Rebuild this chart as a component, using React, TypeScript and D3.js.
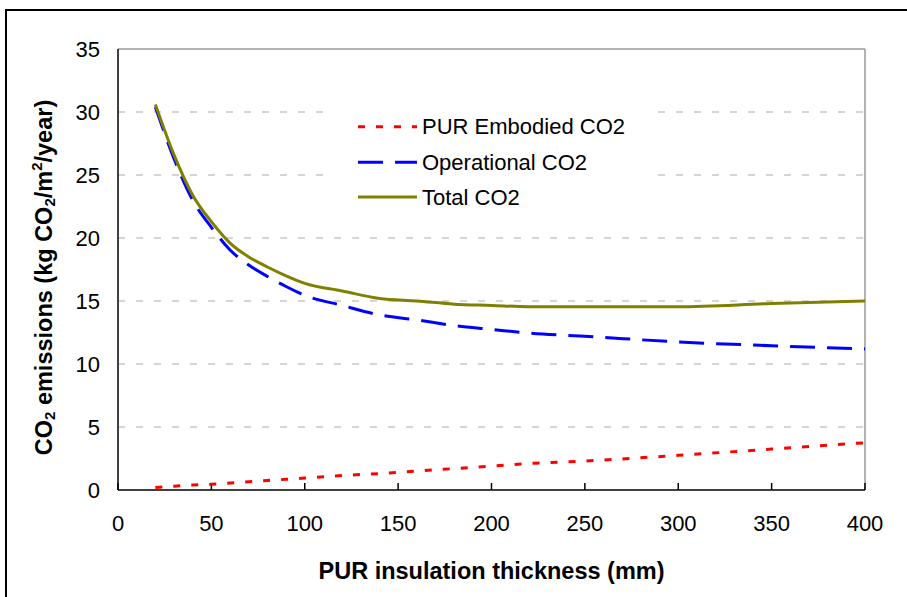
import React from "react";
import * as d3 from "d3";

const thickness = [20, 30, 40, 50, 60, 70, 80, 90, 100, 120, 140, 160, 180, 200, 220, 250, 300, 350, 400];
const totalCO2 = [30.6, 26.6, 23.4, 21.3, 19.6, 18.5, 17.7, 17.0, 16.4, 15.8, 15.2, 15.0, 14.75, 14.65, 14.55, 14.55, 14.55, 14.8, 15.0];
const embodiedCO2 = [0.2, 0.3, 0.4, 0.45, 0.55, 0.65, 0.75, 0.85, 0.95, 1.15, 1.3, 1.5, 1.7, 1.9, 2.1, 2.3, 2.75, 3.25, 3.75];
const operationalCO2 = [30.4, 26.3, 23.0, 20.85, 19.05, 17.85, 16.95, 16.15, 15.45, 14.65, 13.9, 13.5, 13.05, 12.75, 12.45, 12.2, 11.75, 11.45, 11.2];
const xTicks = [0, 50, 100, 150, 200, 250, 300, 350, 400];
const yTicks = [0, 5, 10, 15, 20, 25, 30, 35];

const series = [
  { name: "PUR Embodied CO2", values: embodiedCO2, color: "#ff0000", dash: "7 11" },
  { name: "Operational CO2", values: operationalCO2, color: "#0000ff", dash: "25 12" },
  { name: "Total CO2", values: totalCO2, color: "#808000", dash: "" },
];

const FONT = "'Liberation Sans', Arial, sans-serif";

export default function App() {
  const left = 118, right = 865, top = 49, bottom = 490;
  const x = d3.scaleLinear().domain([0, 400]).range([left, right]);
  const y = d3.scaleLinear().domain([0, 35]).range([bottom, top]);
  const line = d3
    .line<number>()
    .x((_, i) => x(thickness[i]))
    .y((d) => y(d))
    .curve(d3.curveMonotoneX);

  return (
    <svg
      width={907}
      height={597}
      style={{ position: "absolute", left: 0, top: 0, background: "#fff" }}
      fontFamily={FONT}
    >
      <rect x={6} y={10} width={930} height={620} fill="#fff" stroke="#000" strokeWidth={2} />
      {yTicks
        .filter((t) => t > 0 && t < 35)
        .map((t) => (
          <line
            key={"g" + t}
            x1={left}
            x2={right}
            y1={y(t)}
            y2={y(t)}
            stroke="#c8c8c8"
            strokeWidth={1.5}
            strokeDasharray="7 11"
          />
        ))}
      {/* plot frame */}
      <line x1={left} x2={right} y1={top} y2={top} stroke="#999" strokeWidth={1.5} />
      <line x1={right} x2={right} y1={top} y2={bottom} stroke="#999" strokeWidth={1.5} />
      <line x1={left} x2={left} y1={top} y2={bottom} stroke="#000" strokeWidth={1.5} />
      <line x1={left} x2={right} y1={bottom} y2={bottom} stroke="#000" strokeWidth={1.5} />
      {xTicks.map((t) => (
        <g key={"x" + t}>
          <line x1={x(t)} x2={x(t)} y1={bottom} y2={bottom - 7} stroke="#000" strokeWidth={1.5} />
          <text x={x(t)} y={523} textAnchor="middle" dominantBaseline="central" fontSize={22} fill="#000">
            {t}
          </text>
        </g>
      ))}
      {yTicks.map((t) => (
        <text key={"y" + t} x={100} y={y(t)} textAnchor="end" dominantBaseline="central" fontSize={22} fill="#000">
          {t}
        </text>
      ))}
      {/* legend */}
      <rect x={324} y={100} width={324} height={118} fill="#fff" />
      {series.map((s, i) => {
        const ly = [126.7, 162.3, 197][i];
        return (
          <g key={s.name}>
            <line x1={358} x2={417} y1={ly} y2={ly} stroke={s.color} strokeWidth={3} strokeDasharray={s.dash || undefined} />
            <text x={422} y={ly} dominantBaseline="central" fontSize={22} fill="#000">
              {s.name}
            </text>
          </g>
        );
      })}
      {series.map((s) => (
        <path
          key={"p" + s.name}
          d={line(s.values) || ""}
          fill="none"
          stroke={s.color}
          strokeWidth={3}
          strokeDasharray={s.dash || undefined}
          strokeLinejoin="round"
        />
      ))}
      <text x={(left + right) / 2} y={571} textAnchor="middle" dominantBaseline="central" fontSize={23.5} fontWeight="bold" fill="#000">
        PUR insulation thickness (mm)
      </text>
      <text
        transform={`translate(44, ${(top + bottom) / 2 + 8}) rotate(-90)`}
        textAnchor="middle"
        dominantBaseline="central"
        fontSize={23.5}
        fontWeight="bold"
        fill="#000"
      >
        CO<tspan fontSize={15} dy={5}>2</tspan>
        <tspan dy={-5}> emissions (kg CO</tspan>
        <tspan fontSize={15} dy={5}>2</tspan>
        <tspan dy={-5}>/m</tspan>
        <tspan fontSize={15} dy={-8}>2</tspan>
        <tspan dy={8}>/year)</tspan>
      </text>
    </svg>
  );
}
